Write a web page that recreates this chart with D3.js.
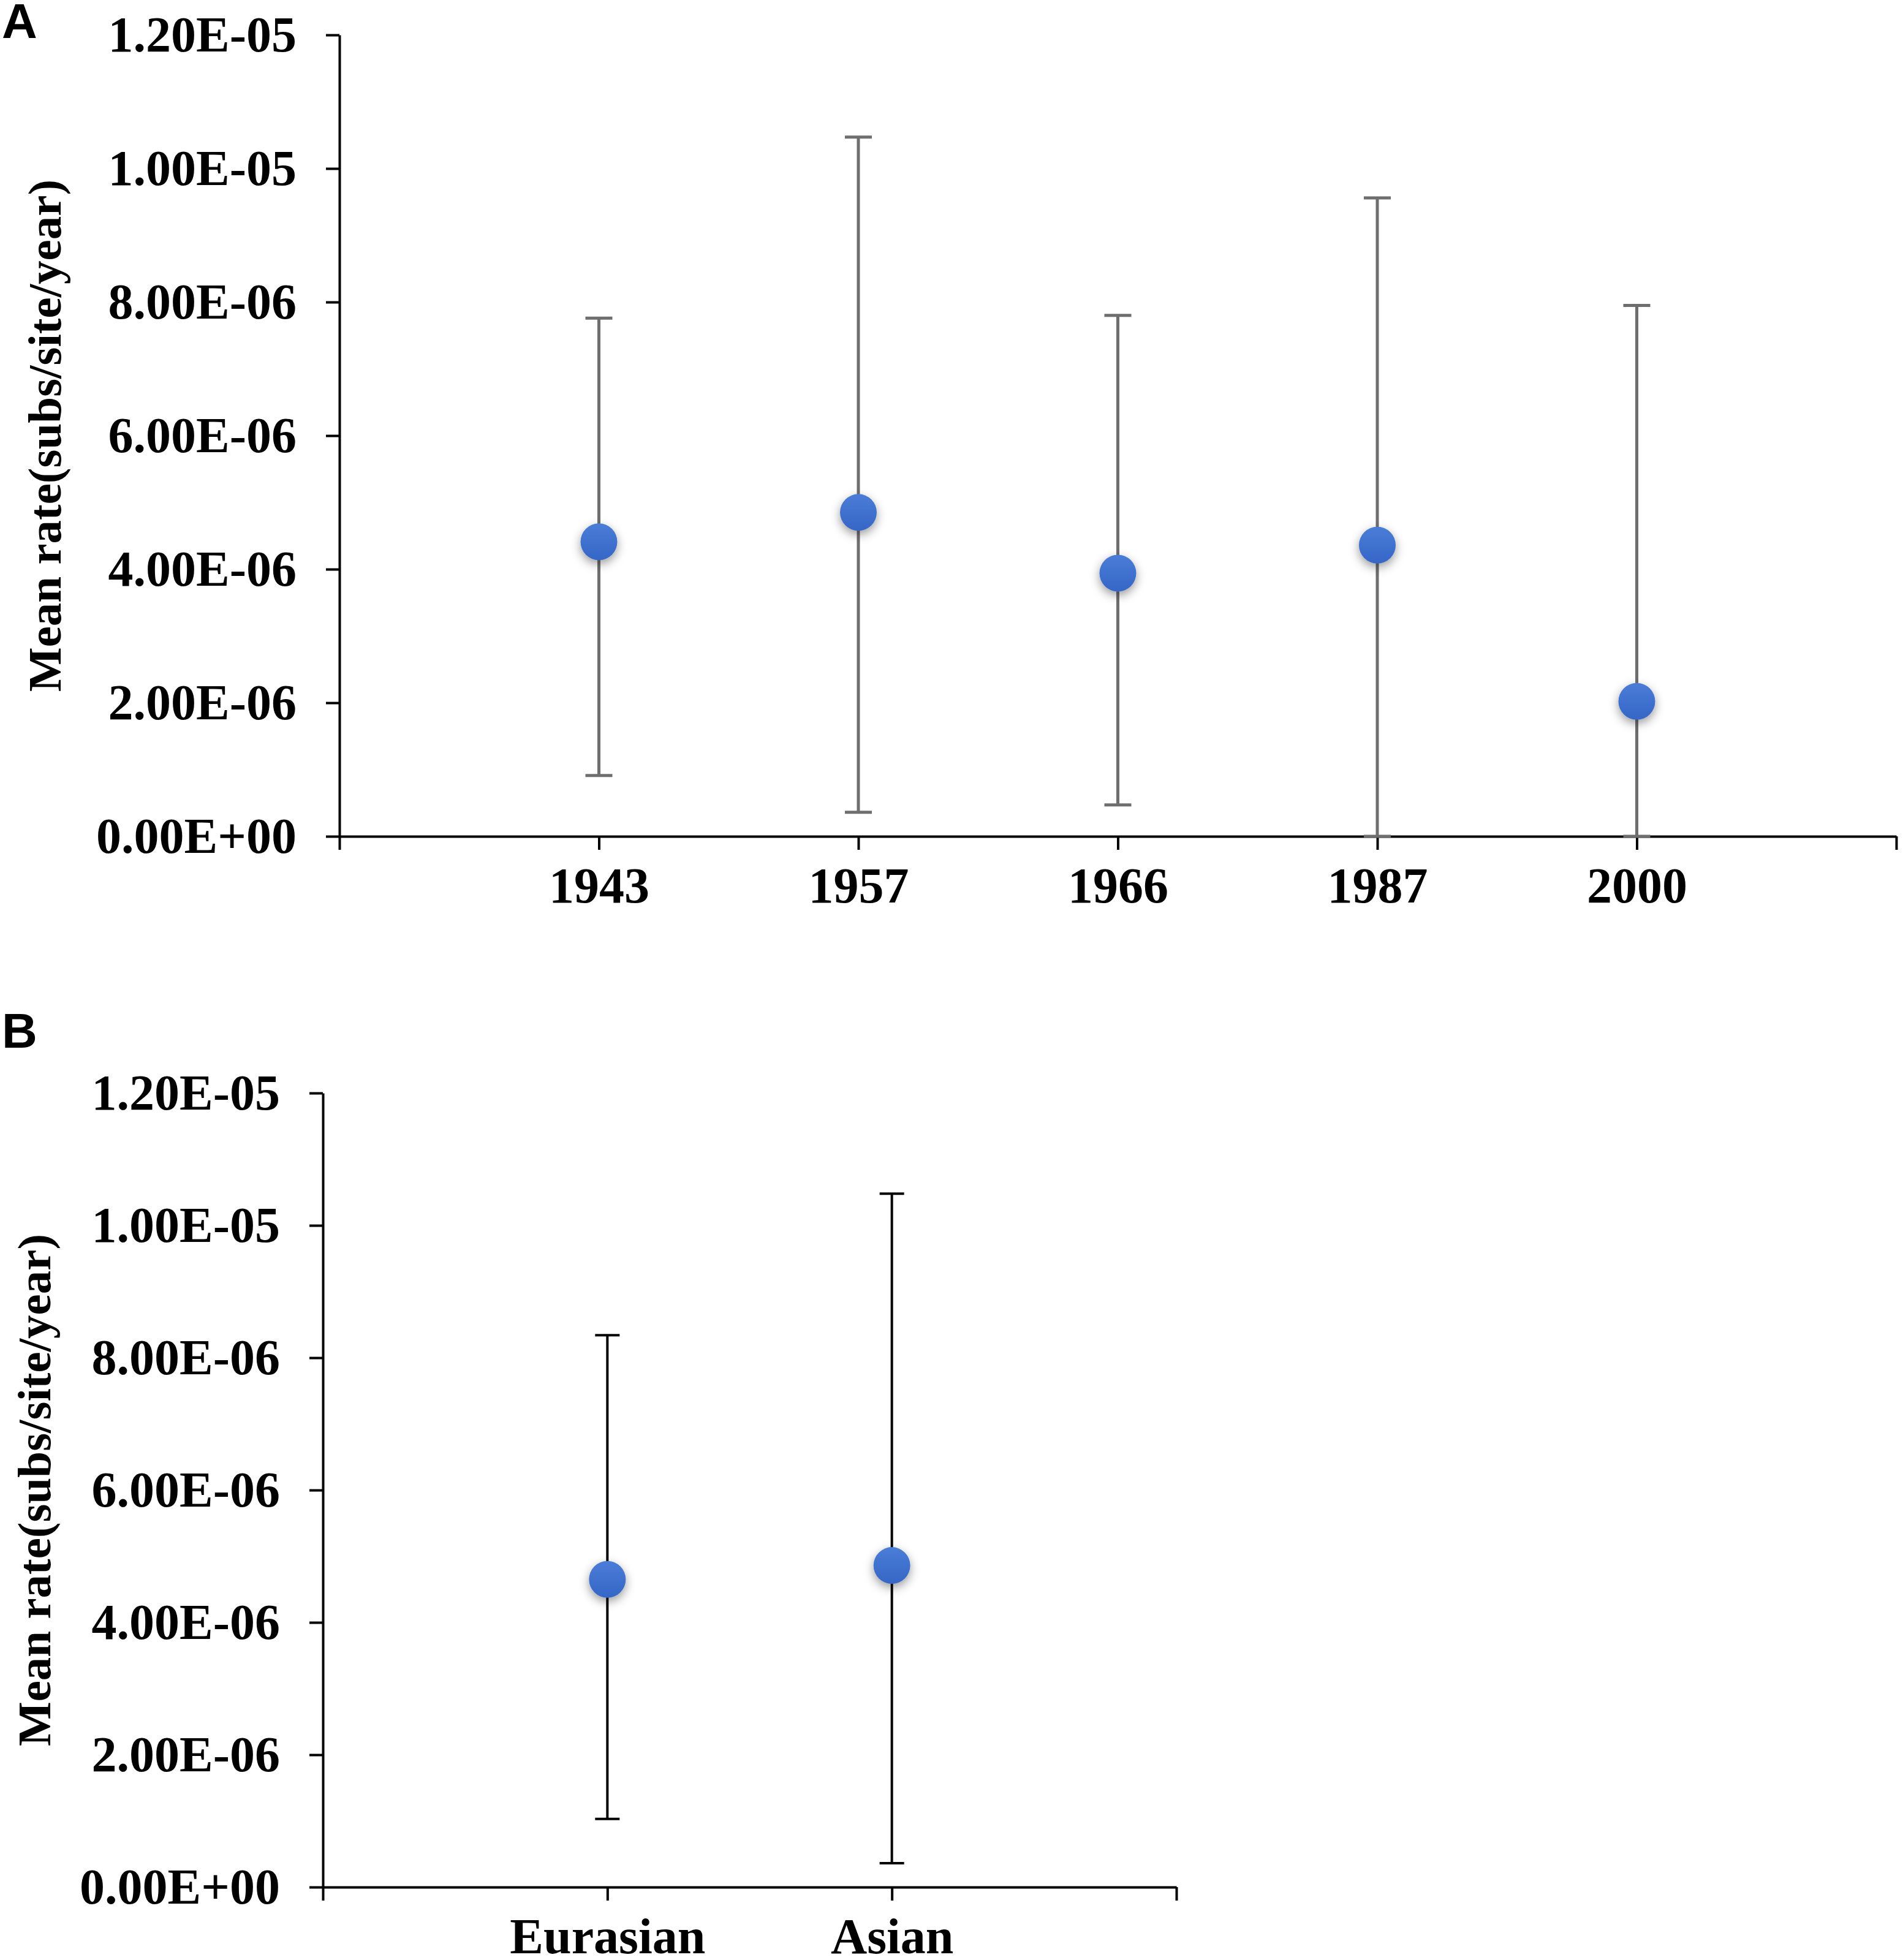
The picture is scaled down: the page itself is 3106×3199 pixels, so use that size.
<!DOCTYPE html>
<html>
<head>
<meta charset="utf-8">
<script src="https://cdn.jsdelivr.net/npm/d3@7"></script>
<style>
  body { margin: 0; background: #fff; }
  svg { display: block; }
  .tick text { font-family: "Liberation Serif", "Times New Roman", serif; font-weight: bold; }
</style>
</head>
<body>
<div id="chart"></div>
<script>
// panel A: rate per sampling year
var yearLabels = ["1943", "1957", "1966", "1987", "2000"];
var yearMeans = [4.41e-6, 4.85e-6, 3.94e-6, 4.36e-6, 2.02e-6];
var yearLower = [0.91e-6, 0.36e-6, 0.47e-6, 0, 0];
var yearUpper = [7.76e-6, 10.47e-6, 7.80e-6, 9.56e-6, 7.95e-6];

// panel B: rate per lineage
var lineageLabels = ["Eurasian", "Asian"];
var lineageMeans = [4.65e-6, 4.86e-6];
var lineageLower = [1.03e-6, 0.36e-6];
var lineageUpper = [8.34e-6, 10.48e-6];

var yTicks = [0, 2e-6, 4e-6, 6e-6, 8e-6, 1e-5, 1.2e-5];
var yTickLabels = ["0.00E+00", "2.00E-06", "4.00E-06", "6.00E-06", "8.00E-06", "1.00E-05", "1.20E-05"];
var yTitle = "Mean rate(subs/site/year)";

var width = 3106, height = 3199;

var svg = d3.select("#chart").append("svg")
    .attr("width", width)
    .attr("height", height);

svg.append("rect").attr("width", width).attr("height", height).attr("fill", "#fff");

var defs = svg.append("defs");
var shadow = defs.append("filter").attr("id", "dotShadow")
    .attr("x", "-80%").attr("y", "-80%").attr("width", "260%").attr("height", "260%");
shadow.append("feDropShadow")
    .attr("dx", 0).attr("dy", 6).attr("stdDeviation", 8)
    .attr("flood-color", "#000").attr("flood-opacity", 0.4);

var grad = defs.append("linearGradient").attr("id", "dotFill")
    .attr("x1", 0).attr("y1", 0).attr("x2", 0).attr("y2", 1);
grad.append("stop").attr("offset", "0%").attr("stop-color", "#4a7dd8");
grad.append("stop").attr("offset", "100%").attr("stop-color", "#3566c6");

function drawPanel(p) {
    var n = p.labels.length;
    var g = svg.append("g");

    var x = d3.scaleLinear()
        .domain([0, n + 1])
        .range([p.left, p.right]);

    var y = d3.scaleLinear()
        .domain([0, 1.2e-5])
        .range([p.bottom, p.top]);

    // Add X axis
    var xAxis = g.append("g")
        .attr("transform", "translate(0," + p.bottom + ")")
        .call(d3.axisBottom(x)
            .tickValues(d3.range(0, n + 2))
            .tickFormat(function(i) { return p.labels[i - 1] || ""; })
            .tickSize(22)
            .tickSizeOuter(0)
            .tickPadding(28));
    xAxis.selectAll("line, path").attr("stroke", "#000").attr("stroke-width", 4);
    xAxis.selectAll("text").attr("font-size", 82).attr("fill", "#000");

    // Add Y axis
    var yAxis = g.append("g")
        .attr("transform", "translate(" + p.left + ",0)")
        .call(d3.axisLeft(y)
            .tickValues(yTicks)
            .tickFormat(function(d, i) { return yTickLabels[i]; })
            .tickSize(22)
            .tickSizeOuter(0)
            .tickPadding(48));
    yAxis.selectAll("line, path").attr("stroke", "#000").attr("stroke-width", 4);
    yAxis.selectAll("text").attr("font-size", 82).attr("fill", "#000");

    // Y axis title
    g.append("text")
        .attr("transform", "translate(" + p.titleX + "," + (p.top + p.bottom) / 2 + ") rotate(-90)")
        .attr("text-anchor", "middle")
        .attr("font-family", "'Liberation Serif', 'Times New Roman', serif")
        .attr("font-weight", "bold")
        .attr("font-size", 77)
        .text(yTitle);

    // panel letter
    g.append("text")
        .attr("x", 3)
        .attr("y", p.letterY)
        .attr("font-family", "'Liberation Sans', Arial, sans-serif")
        .attr("font-weight", "bold")
        .attr("font-size", 80)
        .text(p.letter);

    var rows = p.labels.map(function(d, i) {
        return {label: d, pos: i + 1, mean: p.means[i], lo: p.lower[i], hi: p.upper[i]};
    });

    // error bars
    var bars = g.selectAll(".errBar")
        .data(rows)
        .enter()
        .append("g")
        .attr("class", "errBar")
        .attr("stroke", p.barColor)
        .attr("stroke-width", p.barWidth);

    bars.append("line")
        .attr("x1", function(d) { return x(d.pos); })
        .attr("x2", function(d) { return x(d.pos); })
        .attr("y1", function(d) { return y(d.lo); })
        .attr("y2", function(d) { return y(d.hi); });

    bars.append("line")
        .attr("x1", function(d) { return x(d.pos) - p.cap; })
        .attr("x2", function(d) { return x(d.pos) + p.cap; })
        .attr("y1", function(d) { return y(d.hi); })
        .attr("y2", function(d) { return y(d.hi); });

    bars.append("line")
        .attr("x1", function(d) { return x(d.pos) - p.cap; })
        .attr("x2", function(d) { return x(d.pos) + p.cap; })
        .attr("y1", function(d) { return y(d.lo); })
        .attr("y2", function(d) { return y(d.lo); });

    // mean markers
    g.selectAll(".meanDot")
        .data(rows)
        .enter()
        .append("circle")
        .attr("class", "meanDot")
        .attr("cx", function(d) { return x(d.pos); })
        .attr("cy", function(d) { return y(d.mean); })
        .attr("r", 30)
        .attr("fill", "url(#dotFill)")
        .attr("filter", "url(#dotShadow)");
}

drawPanel({
    letter: "A", letterY: 62,
    labels: yearLabels, means: yearMeans, lower: yearLower, upper: yearUpper,
    left: 554, right: 3095, top: 57, bottom: 1365,
    titleX: 99, barColor: "#6e6e6e", barWidth: 5, cap: 22
});

drawPanel({
    letter: "B", letterY: 1710,
    labels: lineageLabels, means: lineageMeans, lower: lineageLower, upper: lineageUpper,
    left: 527, right: 1920, top: 1784, bottom: 3080,
    titleX: 82, barColor: "#000", barWidth: 4, cap: 20
});
</script>
</body>
</html>
